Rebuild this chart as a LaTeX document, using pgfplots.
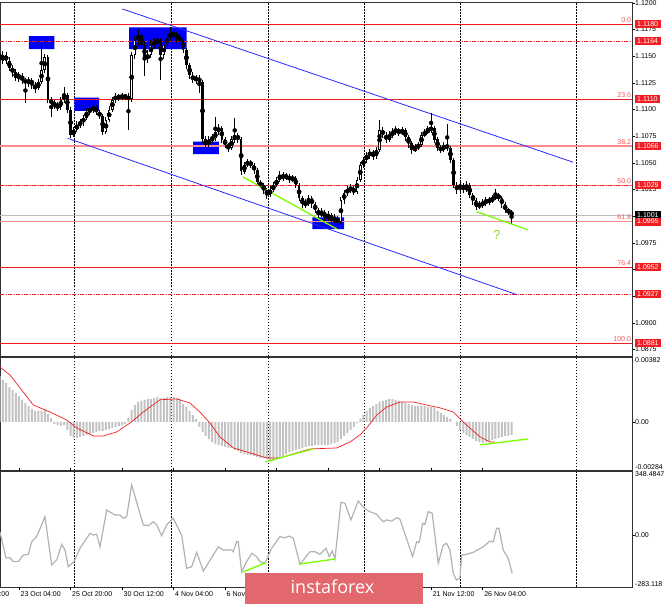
\documentclass[border=0pt]{standalone}
\usepackage{pgfplots}
\usepackage{pgfplotstable}
\pgfplotsset{compat=1.18}
\usepackage{fontspec}
\setmainfont{Liberation Sans}
\newfontfamily\logofont{Open Sans}
\definecolor{fibred}{RGB}{240,30,35}
\definecolor{fibpink}{RGB}{255,140,140}
\definecolor{lblred}{RGB}{255,85,85}
\definecolor{chblue}{RGB}{40,40,255}
\definecolor{boxblue}{RGB}{0,0,250}
\definecolor{limeg}{RGB}{124,252,0}
\definecolor{qgreen}{RGB}{150,215,40}
\definecolor{histgray}{RGB}{195,195,195}
\definecolor{ccigray}{RGB}{178,178,178}
\definecolor{bidgray}{RGB}{190,190,190}
\definecolor{bannerred}{RGB}{226,104,110}
\definecolor{framegray}{RGB}{50,50,50}

\pgfplotstableread{
x o h l c
-6 1.1150 1.1158 1.1143 1.1146
-5 1.1146 1.1155 1.1143 1.1151
-4 1.1151 1.1154 1.1143 1.1146
-3 1.1146 1.1149 1.1136 1.1139
-2 1.1139 1.1142 1.1131 1.1135
-1 1.1135 1.1138 1.1127 1.1130
0 1.1130 1.1135 1.1126 1.1132
1 1.1132 1.1134 1.1124 1.1128
2 1.1128 1.1130 1.1106 1.1125
3 1.1125 1.1131 1.1121 1.1128
4 1.1128 1.1130 1.1119 1.1123
5 1.1123 1.1126 1.1116 1.1120
6 1.1120 1.1129 1.1118 1.1126
7 1.1126 1.1163 1.1124 1.1137
8 1.1137 1.1152 1.1134 1.1149
9 1.1149 1.1151 1.1106 1.1109
10 1.1109 1.1112 1.1093 1.1106
11 1.1106 1.1109 1.1101 1.1104
12 1.1104 1.1107 1.1099 1.1102
13 1.1102 1.1112 1.1100 1.1109
14 1.1109 1.1121 1.1106 1.1114
15 1.1114 1.1116 1.1097 1.1100
16 1.1100 1.1102 1.1073 1.1076
17 1.1076 1.1084 1.1074 1.1081
18 1.1081 1.1089 1.1079 1.1086
19 1.1086 1.1091 1.1083 1.1088
20 1.1088 1.1095 1.1085 1.1092
21 1.1092 1.1102 1.1090 1.1098
22 1.1098 1.1104 1.1095 1.1100
23 1.1100 1.1106 1.1097 1.1102
24 1.1102 1.1104 1.1095 1.1098
25 1.1098 1.1100 1.1091 1.1094
26 1.1094 1.1096 1.1076 1.1079
27 1.1079 1.1093 1.1077 1.1090
28 1.1090 1.1103 1.1088 1.1100
29 1.1100 1.1112 1.1098 1.1109
30 1.1109 1.1116 1.1106 1.1113
31 1.1113 1.1115 1.1108 1.1111
32 1.1111 1.1116 1.1109 1.1113
33 1.1113 1.1115 1.1109 1.1112
34 1.1112 1.1116 1.1081 1.1110
35 1.1110 1.1154 1.1107 1.1151
36 1.1151 1.1169 1.1148 1.1165
37 1.1165 1.1175 1.1160 1.1170
38 1.1170 1.1173 1.1157 1.1161
39 1.1161 1.1164 1.1132 1.1148
40 1.1148 1.1156 1.1144 1.1151
41 1.1151 1.1165 1.1148 1.1161
42 1.1161 1.1167 1.1157 1.1163
43 1.1163 1.1169 1.1159 1.1165
44 1.1165 1.1167 1.1128 1.1151
45 1.1151 1.1164 1.1148 1.1161
46 1.1161 1.1171 1.1158 1.1167
47 1.1167 1.1177 1.1164 1.1172
48 1.1172 1.1175 1.1165 1.1170
49 1.1170 1.1173 1.1163 1.1168
50 1.1168 1.1171 1.1161 1.1165
51 1.1165 1.1168 1.1153 1.1156
52 1.1156 1.1158 1.1138 1.1142
53 1.1142 1.1144 1.1129 1.1132
54 1.1132 1.1135 1.1125 1.1128
55 1.1128 1.1133 1.1124 1.1130
56 1.1130 1.1132 1.1116 1.1126
57 1.1126 1.1128 1.1069 1.1072
58 1.1072 1.1075 1.1064 1.1067
59 1.1067 1.1075 1.1065 1.1072
60 1.1072 1.1077 1.1069 1.1073
61 1.1073 1.1093 1.1071 1.1079
62 1.1079 1.1087 1.1076 1.1083
63 1.1083 1.1085 1.1069 1.1072
64 1.1072 1.1074 1.1064 1.1067
65 1.1067 1.1069 1.1060 1.1064
66 1.1064 1.1075 1.1062 1.1072
67 1.1072 1.1092 1.1069 1.1076
68 1.1076 1.1078 1.1069 1.1072
69 1.1072 1.1074 1.1039 1.1042
70 1.1042 1.1051 1.1040 1.1048
71 1.1048 1.1054 1.1046 1.1051
72 1.1051 1.1053 1.1045 1.1048
73 1.1048 1.1050 1.1040 1.1043
74 1.1043 1.1045 1.1029 1.1032
75 1.1032 1.1034 1.1026 1.1029
76 1.1029 1.1031 1.1021 1.1025
77 1.1025 1.1027 1.1016 1.1020
78 1.1020 1.1028 1.1018 1.1025
79 1.1025 1.1032 1.1023 1.1029
80 1.1029 1.1037 1.1027 1.1034
81 1.1034 1.1042 1.1032 1.1039
82 1.1039 1.1041 1.1033 1.1036
83 1.1036 1.1041 1.1034 1.1038
84 1.1038 1.1040 1.1031 1.1034
85 1.1034 1.1039 1.1032 1.1036
86 1.1036 1.1038 1.1026 1.1029
87 1.1029 1.1031 1.1014 1.1017
88 1.1017 1.1019 1.1008 1.1011
89 1.1011 1.1016 1.1008 1.1012
90 1.1012 1.1020 1.1010 1.1017
91 1.1017 1.1019 1.1008 1.1011
92 1.1011 1.1013 1.1003 1.1006
93 1.1006 1.1008 1.0998 1.1001
94 1.1001 1.1008 1.0999 1.1004
95 1.1004 1.1006 1.0995 1.0998
96 1.0998 1.1005 1.0996 1.1001
97 1.1001 1.1003 1.0993 1.0996
98 1.0996 1.1002 1.0994 1.0998
99 1.0998 1.1000 1.0991 1.0995
100 1.0995 1.1018 1.0993 1.1015
101 1.1015 1.1025 1.1012 1.1022
102 1.1022 1.1028 1.1019 1.1025
103 1.1025 1.1030 1.1022 1.1026
104 1.1026 1.1028 1.1020 1.1023
105 1.1023 1.1037 1.1021 1.1034
106 1.1034 1.1051 1.1032 1.1048
107 1.1048 1.1056 1.1045 1.1053
108 1.1053 1.1060 1.1050 1.1057
109 1.1057 1.1063 1.1054 1.1060
110 1.1060 1.1062 1.1053 1.1057
111 1.1057 1.1065 1.1054 1.1062
112 1.1062 1.1090 1.1060 1.1081
113 1.1081 1.1084 1.1073 1.1076
114 1.1076 1.1079 1.1069 1.1072
115 1.1072 1.1080 1.1070 1.1076
116 1.1076 1.1083 1.1073 1.1079
117 1.1079 1.1085 1.1076 1.1081
118 1.1081 1.1083 1.1075 1.1078
119 1.1078 1.1084 1.1076 1.1081
120 1.1081 1.1083 1.1071 1.1074
121 1.1074 1.1076 1.1064 1.1069
122 1.1069 1.1071 1.1058 1.1062
123 1.1062 1.1068 1.1060 1.1064
124 1.1064 1.1070 1.1062 1.1067
125 1.1067 1.1079 1.1065 1.1076
126 1.1076 1.1082 1.1074 1.1079
127 1.1079 1.1085 1.1077 1.1081
128 1.1081 1.1097 1.1078 1.1083
129 1.1083 1.1085 1.1069 1.1072
130 1.1072 1.1074 1.1061 1.1064
131 1.1064 1.1067 1.1059 1.1062
132 1.1062 1.1070 1.1060 1.1067
133 1.1067 1.1087 1.1061 1.1064
134 1.1064 1.1066 1.1050 1.1053
135 1.1053 1.1055 1.1026 1.1029
136 1.1029 1.1032 1.1021 1.1025
137 1.1025 1.1034 1.1022 1.1029
138 1.1029 1.1031 1.1022 1.1025
139 1.1025 1.1033 1.1023 1.1029
140 1.1029 1.1031 1.1017 1.1020
141 1.1020 1.1022 1.1011 1.1015
142 1.1015 1.1017 1.1006 1.1009
143 1.1009 1.1014 1.1007 1.1011
144 1.1011 1.1016 1.1008 1.1012
145 1.1012 1.1018 1.1010 1.1015
146 1.1015 1.1018 1.1011 1.1014
147 1.1014 1.1020 1.1012 1.1017
148 1.1017 1.1026 1.1015 1.1020
149 1.1020 1.1022 1.1014 1.1017
150 1.1017 1.1019 1.1008 1.1011
151 1.1011 1.1013 1.1003 1.1006
152 1.1006 1.1008 1.1001 1.1004
153 1.1004 1.1006 1.0993 1.1001
}\candles

\pgfplotstableread{
x v
-6 0.00270
-5 0.00246
-4 0.00229
-3 0.00205
-2 0.00188
-1 0.00170
0 0.00152
1 0.00129
2 0.00111
3 0.00093
4 0.00076
5 0.00064
6 0.00064
7 0.00064
8 0.00070
9 0.00046
10 0.00023
11 -0.00013
12 -0.00019
13 -0.00024
14 -0.00019
15 -0.00048
16 -0.00083
17 -0.00095
18 -0.00095
19 -0.00089
20 -0.00083
21 -0.00077
22 -0.00071
23 -0.00066
24 -0.00060
25 -0.00054
26 -0.00054
27 -0.00048
28 -0.00042
29 -0.00036
30 -0.00030
31 -0.00024
32 -0.00019
33 -0.00013
34 0.00023
35 0.00070
36 0.00099
37 0.00117
38 0.00123
39 0.00129
40 0.00135
41 0.00135
42 0.00140
43 0.00146
44 0.00140
45 0.00140
46 0.00146
47 0.00146
48 0.00146
49 0.00140
50 0.00135
51 0.00105
52 0.00087
53 0.00064
54 0.00040
55 0.00017
56 -0.00030
57 -0.00060
58 -0.00083
59 -0.00101
60 -0.00119
61 -0.00130
62 -0.00136
63 -0.00142
64 -0.00148
65 -0.00154
66 -0.00154
67 -0.00166
68 -0.00172
69 -0.00183
70 -0.00189
71 -0.00195
72 -0.00195
73 -0.00201
74 -0.00207
75 -0.00213
76 -0.00213
77 -0.00219
78 -0.00225
79 -0.00231
80 -0.00225
81 -0.00213
82 -0.00201
83 -0.00189
84 -0.00178
85 -0.00172
86 -0.00166
87 -0.00160
88 -0.00154
89 -0.00148
90 -0.00142
91 -0.00142
92 -0.00136
93 -0.00136
94 -0.00136
95 -0.00136
96 -0.00136
97 -0.00130
98 -0.00125
99 -0.00119
100 -0.00101
101 -0.00083
102 -0.00066
103 -0.00048
104 -0.00030
105 -0.00007
106 0.00017
107 0.00040
108 0.00064
109 0.00082
110 0.00093
111 0.00105
112 0.00117
113 0.00123
114 0.00129
115 0.00135
116 0.00135
117 0.00129
118 0.00123
119 0.00117
120 0.00111
121 0.00105
122 0.00099
123 0.00093
124 0.00093
125 0.00093
126 0.00093
127 0.00087
128 0.00087
129 0.00082
130 0.00064
131 0.00052
132 0.00040
133 0.00029
134 0.00017
135 0.00000
136 -0.00024
137 -0.00048
138 -0.00066
139 -0.00077
140 -0.00089
141 -0.00101
142 -0.00113
143 -0.00119
144 -0.00125
145 -0.00119
146 -0.00113
147 -0.00107
148 -0.00101
149 -0.00095
150 -0.00089
151 -0.00083
152 -0.00083
153 -0.00077
}\macd

\pgfplotsset{
  pane/.style={scale only axis, width=632pt, xmin=-5.9, xmax=190.4,
    axis line style={framegray, line width=0.8pt},
    xtick={17.1,47.2,77.3,107.2,137.2,173.2}, xticklabels={},
    xmajorgrids, major x grid style={black, line width=0.5pt, dash pattern=on 1.5pt off 1.5pt},
    xtick style={draw=none},
    ytick pos=right, yticklabels={}, tick align=outside, major tick length=3pt,
    ytick style={black, line width=0.5pt},
    scaled ticks=false,
    clip=false, anchor=north west},
  candle/.style={draw=none, only marks, mark=none, error bars/.cd, y dir=both, y explicit, error mark=none},
}
\tikzset{
  lab/.style={anchor=west, xshift=2.5pt, inner sep=0.5pt, font=\fontsize{7}{8}\selectfont},
  pbox/.style={anchor=west, xshift=2.5pt, inner ysep=0pt, inner xsep=2.5pt, minimum height=8pt, text=white, fill=#1, font=\fontsize{7}{8}\selectfont},
  fiblab/.style={anchor=south east, text=lblred, inner sep=0.5pt, yshift=1pt, font=\fontsize{7}{8}\selectfont},
  tlab/.style={anchor=north west, inner sep=0pt, xshift=1.5pt, yshift=-4.5pt, font=\fontsize{7}{8}\selectfont},
}

\begin{document}
\begin{tikzpicture}[font=\fontsize{7}{8}\selectfont]
\useasboundingbox (0,0) rectangle (665pt,-604pt);
\clip (0,0) rectangle (665pt,-604pt);

% ---------------- main price pane ----------------
\begin{axis}[pane, at={(0pt,-2pt)}, height=354pt, ymin=1.08689, ymax=1.12009,
  ytick={1.0875,1.0900,1.0925,1.0950,1.0975,1.1000,1.1025,1.1050,1.1075,1.1100,1.1125,1.1150,1.1175,1.1200}]
% blue boxes
\addplot[fill=boxblue, draw=none] coordinates {(3.1,1.1169) (10.96,1.1169) (10.96,1.11566) (3.1,1.11566) (3.1,1.1169)};
\addplot[fill=boxblue, draw=none] coordinates {(17.2,1.11112) (24.9,1.11112) (24.9,1.10987) (17.2,1.10987) (17.2,1.11112)};
\addplot[fill=boxblue, draw=none] coordinates {(34.2,1.11772) (52.1,1.11772) (52.1,1.11568) (34.2,1.11568) (34.2,1.11772)};
\addplot[fill=boxblue, draw=none] coordinates {(54.1,1.10699) (62.1,1.10699) (62.1,1.10583) (54.1,1.10583) (54.1,1.10699)};
\addplot[fill=boxblue, draw=none] coordinates {(91.1,1.09990) (101.0,1.09990) (101.0,1.09880) (91.1,1.09880) (91.1,1.09990)};
% level lines
\addplot[fibred, line width=0.8pt] coordinates {(-5.9,1.1180) (190.4,1.1180)};
\addplot[fibred, line width=0.8pt, dash pattern=on 4pt off 1.5pt on 1pt off 1.5pt] coordinates {(-5.9,1.1164) (190.4,1.1164)};
\addplot[fibred, line width=0.8pt] coordinates {(-5.9,1.1110) (190.4,1.1110)};
\addplot[fibpink, line width=1.5pt] coordinates {(-5.9,1.1066) (190.4,1.1066)};
\addplot[fibpink, line width=1.3pt] coordinates {(-5.9,1.1029) (190.4,1.1029)};
\addplot[fibred, line width=0.7pt, dash pattern=on 4pt off 1.5pt on 1pt off 1.5pt] coordinates {(-5.9,1.1029) (190.4,1.1029)};
\addplot[bidgray, line width=0.7pt] coordinates {(-5.9,1.1001) (190.4,1.1001)};
\addplot[fibpink, line width=1.5pt] coordinates {(-5.9,1.0995) (190.4,1.0995)};
\addplot[fibred, line width=0.8pt] coordinates {(-5.9,1.0952) (190.4,1.0952)};
\addplot[fibred, line width=0.8pt, dash pattern=on 4pt off 1.5pt on 1pt off 1.5pt] coordinates {(-5.9,1.0927) (190.4,1.0927)};
\addplot[fibred, line width=0.8pt] coordinates {(-5.9,1.0881) (190.4,1.0881)};
% channel
\addplot[chblue, line width=0.8pt] coordinates {(32.08,1.11944) (172.05,1.10507)};
\addplot[chblue, line width=0.8pt] coordinates {(15.12,1.10731) (154.66,1.09264)};
% candles: wicks
\addplot[candle, error bar style={line width=1pt, draw=black, solid}]
  table[x=x, y expr={(\thisrow{h}+\thisrow{l})/2}, y error expr={(\thisrow{h}-\thisrow{l})/2}] {\candles};
% bodies
\addplot[candle, error bar style={line width=2.6pt, draw=black, solid}]
  table[x=x, y expr={(\thisrow{o}+\thisrow{c})/2}, y error expr={max(abs(\thisrow{c}-\thisrow{o})/2,0.00004)}] {\candles};
% bullish hollow interior
\addplot[candle, error bar style={line width=1pt, draw=white, solid}]
  table[x=x, y expr={(\thisrow{o}+\thisrow{c})/2}, y error expr={max((\thisrow{c}-\thisrow{o})/2-0.00009,0)}] {\candles};
% green trend lines
\addplot[limeg, line width=1.3pt] coordinates {(69.57,1.10368) (98.76,1.09880)};
\addplot[limeg, line width=1.3pt] coordinates {(142.14,1.10042) (158.17,1.09871)};
\node[text=qgreen, font=\fontsize{13}{14}\selectfont] at (axis cs:148.35,1.09824) {?};
% fibo labels
\node[fiblab] at (axis cs:190.3,1.1180) {0.0};
\node[fiblab] at (axis cs:190.3,1.1110) {23.6};
\node[fiblab] at (axis cs:190.3,1.1066) {38.2};
\node[fiblab] at (axis cs:190.3,1.1029) {50.0};
\node[fiblab] at (axis cs:190.3,1.0995) {61.8};
\node[fiblab] at (axis cs:190.3,1.0952) {76.4};
\node[fiblab] at (axis cs:190.3,1.0881) {100.0};
% price scale
\node[lab] at (axis cs:190.4,1.1200) {1.1200};
\node[lab] at (axis cs:190.4,1.1175) {1.1175};
\node[lab] at (axis cs:190.4,1.1150) {1.1150};
\node[lab] at (axis cs:190.4,1.1125) {1.1125};
\node[lab] at (axis cs:190.4,1.1100) {1.1100};
\node[lab] at (axis cs:190.4,1.1075) {1.1075};
\node[lab] at (axis cs:190.4,1.1050) {1.1050};
\node[lab] at (axis cs:190.4,1.1025) {1.1025};
\node[lab] at (axis cs:190.4,1.0975) {1.0975};
\node[lab] at (axis cs:190.4,1.0925) {1.0925};
\node[lab] at (axis cs:190.4,1.0900) {1.0900};
\node[lab] at (axis cs:190.4,1.0875) {1.0875};
\node[pbox=fibred] at (axis cs:190.4,1.1180) {1.1180};
\node[pbox=fibred] at (axis cs:190.4,1.1164) {1.1164};
\node[pbox=fibred] at (axis cs:190.4,1.1110) {1.1110};
\node[pbox=fibred] at (axis cs:190.4,1.1066) {1.1066};
\node[pbox=fibred] at (axis cs:190.4,1.1029) {1.1029};
\node[pbox=black] at (axis cs:190.4,1.1001) {1.1001};
\node[pbox=fibred] at (axis cs:190.4,1.0995) {1.0995};
\node[pbox=fibred] at (axis cs:190.4,1.0952) {1.0952};
\node[pbox=fibred] at (axis cs:190.4,1.0927) {1.0927};
\node[pbox=fibred] at (axis cs:190.4,1.0881) {1.0881};
\end{axis}

% ---------------- MACD pane ----------------
\begin{axis}[pane, at={(0pt,-357pt)}, height=113pt, ymin=-0.00284, ymax=0.00382, ytick={0}]
\addplot[ybar, bar width=2pt, fill=histgray, draw=none] table[x=x, y=v] {\macd};
\addplot[fibred, line width=0.7pt] coordinates {(-5.9,0.00323) (-2.8,0.00276) (4.44,0.00099) (9.63,0.00058) (14.8,0.00011) (17.9,-0.00036) (23.1,-0.00083) (26.2,-0.00083) (30.3,-0.00060) (34.5,-0.00007) (38.6,0.00058) (43.8,0.00130) (48.98,0.00135) (53.1,0.00111) (56.2,0.00058) (59.3,-0.00007) (62.4,-0.00089) (66.6,-0.00154) (71.7,-0.00183) (77.0,-0.00213) (81.1,-0.00213) (86.2,-0.00183) (90.4,-0.00160) (98.7,-0.00154) (102.8,-0.00119) (105.9,-0.00077) (108.0,-0.00036) (111.1,0.00040) (114.2,0.00087) (118.3,0.00117) (122.5,0.00117) (126.6,0.00099) (130.8,0.00082) (134.9,0.00058) (139.0,-0.00019) (143.2,-0.00089) (146.3,-0.00119) (147.8,-0.00119)};
\addplot[limeg, line width=1.3pt] coordinates {(76.4,-0.00236) (91.3,-0.00160)};
\addplot[limeg, line width=1.3pt] coordinates {(143.2,-0.00136) (158.1,-0.00101)};
\node[lab, anchor=north west] at (axis cs:190.4,0.00382) {0.00382};
\node[lab] at (axis cs:190.4,0) {0.00};
\node[lab, anchor=south west] at (axis cs:190.4,-0.00284) {-0.00284};
\end{axis}

% ---------------- CCI pane ----------------
\begin{axis}[pane, at={(0pt,-471pt)}, height=116pt, ymin=-283.118, ymax=348.4847, ytick={0},
  extra x ticks={-16,0,16,32,48,64,80,96,112,128,144}, extra x tick labels={},
  extra x tick style={grid=none, xtick style={draw=black, line width=0.5pt}, major tick length=3pt}]
\addplot[ccigray, line width=1.2pt] coordinates {(-5.9,16) (-4.04,-125) (-2.8,-124) (-1.77,-145) (-0.21,-145) (1.34,-109) (2.89,-105) (3.93,-37) (5.49,-9) (8.07,100) (10.15,-163) (11.7,-136) (13.26,-51) (14.29,-82) (15.3,-173) (17.08,-145) (18.94,-72) (22.05,9) (23.07,0) (24.13,4) (25.16,-64) (27.24,136) (29.81,109) (31.37,109) (32.4,91) (33.44,100) (35.0,272) (38.6,55) (40.16,51) (41.71,72) (42.76,55) (44.31,-4) (45.87,55) (47.92,91) (50.52,0) (52.07,-181) (53.63,-173) (55.19,-94) (57.24,-196) (60.34,-109) (61.9,-64) (63.45,-82) (66.05,-82) (66.55,-91) (67.6,-37) (68.1,-37) (69.16,-200) (70.71,-145) (72.27,-100) (73.82,-118) (74.84,-145) (76.4,-154) (78.48,-72) (81.06,-9) (82.6,-15) (83.95,-6) (85.19,-18) (87.27,-160) (90.37,-91) (91.93,-91) (93.48,-105) (95.34,-72) (96.37,-118) (97.3,-87) (98.14,-131) (100.0,178) (101.24,173) (103.1,82) (105.37,185) (107.45,142) (109.0,127) (111.09,113) (112.11,91) (113.14,72) (114.19,82) (115.75,76) (117.3,94) (118.32,86) (122.26,-118) (123.5,-37) (124.32,-40) (125.37,64) (126.1,58) (127.11,127) (128.35,118) (130.22,-154) (131.77,-55) (132.83,-45) (133.85,-82) (134.88,-209) (135.9,-245) (136.96,-234) (137.48,-109) (139.04,-105) (141.09,-94) (144.2,-64) (146.27,-33) (147.3,-37) (148.35,37) (149.07,37) (150.4,-82) (151.96,-127) (153.2,-209)};
\addplot[limeg, line width=1.3pt] coordinates {(69.6,-201.5) (76.4,-152.5)};
\addplot[limeg, line width=1.3pt] coordinates {(87.3,-157.9) (98.1,-130.7)};
\node[lab, anchor=north west] at (axis cs:190.4,348.4847) {348.4847};
\node[lab] at (axis cs:190.4,0) {0.00};
\node[lab, anchor=south west] at (axis cs:190.4,-283.118) {-283.118};
\node[tlab] at (axis cs:-16,-283.118) {18 Oct 12:00};
\node[tlab] at (axis cs:0,-283.118) {23 Oct 04:00};
\node[tlab] at (axis cs:16,-283.118) {25 Oct 20:00};
\node[tlab] at (axis cs:32,-283.118) {30 Oct 12:00};
\node[tlab] at (axis cs:48,-283.118) {4 Nov 04:00};
\node[tlab] at (axis cs:64,-283.118) {6 Nov 20:00};
\node[tlab] at (axis cs:112,-283.118) {18 Nov 20:00};
\node[tlab] at (axis cs:128,-283.118) {21 Nov 12:00};
\node[tlab] at (axis cs:144,-283.118) {26 Nov 04:00};
\end{axis}

% watermark banner
\fill[bannerred] (245pt,-573pt) rectangle (422.5pt,-604pt);
\node[text=white, font=\logofont\fontsize{18}{20}\selectfont] at (332.5pt,-587pt) {instaforex};
\end{tikzpicture}
\end{document}
